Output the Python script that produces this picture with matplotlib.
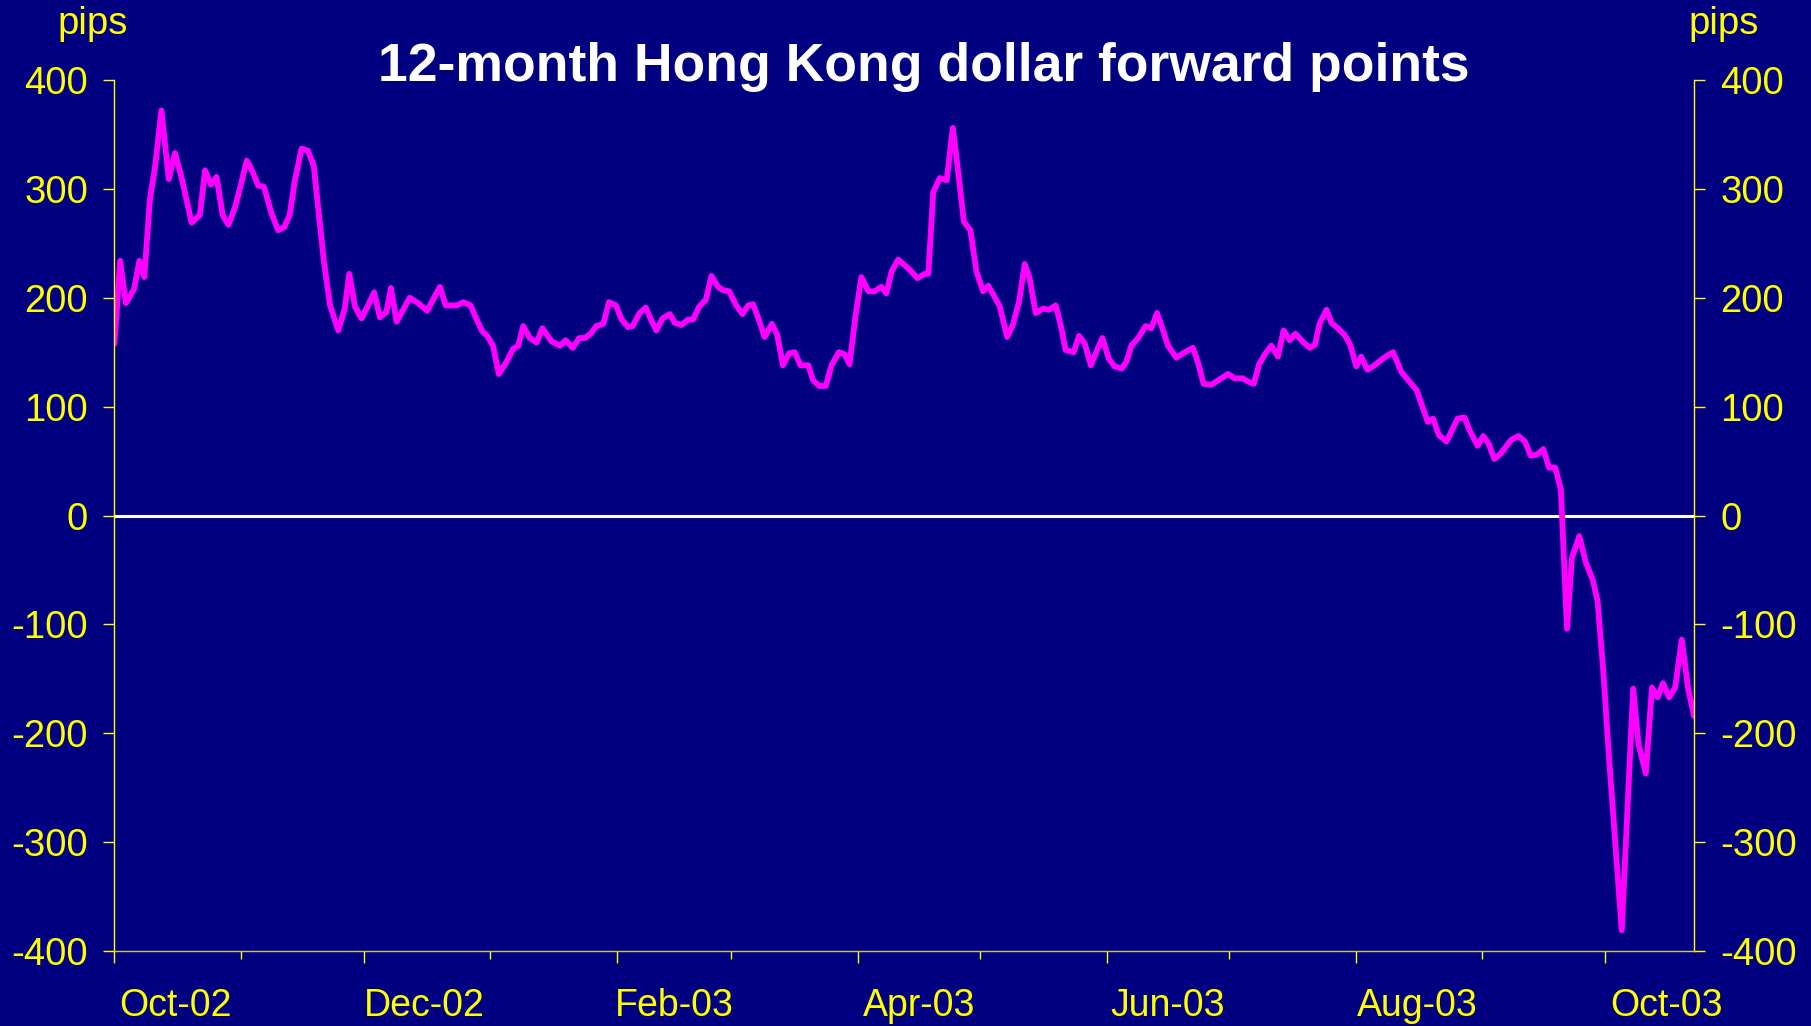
import numpy as np
import pandas as pd
import matplotlib
matplotlib.use("Agg")
import matplotlib.pyplot as plt
import matplotlib.dates as mdates

plt.rcParams["font.family"] = ["Liberation Sans", "DejaVu Sans"]

start_date = "2002-10-01"
end_offset = 386.8

# days since 1 Oct 2002
day_offset = [
    0.0, 1.4, 2.8, 4.8, 6.1, 7.3, 8.7, 9.9, 11.5, 13.3,
    14.8, 16.4, 18.9, 20.9, 22.2, 23.6, 25.0, 26.5, 27.9, 29.5,
    30.7, 32.4, 33.8, 35.2, 36.6, 38.5, 40.1, 41.6, 42.9, 44.2,
    45.8, 47.4, 48.8, 49.9, 51.3, 52.8, 54.8, 56.4, 57.5, 58.9,
    60.5, 62.1, 63.6, 65.0, 66.6, 67.7, 69.1, 70.7, 72.3, 74.4,
    76.6, 78.1, 79.7, 81.1, 83.9, 85.4, 87.2, 88.7, 90.1, 91.3,
    92.7, 94.1, 96.0, 97.6, 98.9, 100.1, 101.7, 103.4, 104.8,
    107.0, 109.1, 110.5, 112.2, 113.8, 115.2, 116.6, 118.0, 119.7, 121.1,
    122.8, 124.2, 125.8, 126.9, 128.6, 130.1, 131.5, 132.7, 134.2, 136.0,
    137.2, 138.8, 140.5, 141.7, 143.2, 144.8, 146.2, 147.8, 149.0, 150.5,
    152.1, 153.8, 155.2, 156.4, 157.8, 159.2, 161.0, 162.3, 163.7, 165.2,
    166.6, 168.0, 169.9, 171.1, 172.6, 174.2, 175.6, 177.4, 178.8, 180.0,
    181.5, 182.9, 184.6, 186.2, 187.8, 189.0, 190.3, 191.9, 193.5, 195.2,
    196.6, 198.5, 199.3, 200.5, 202.1, 203.8, 205.3, 206.6, 208.0, 209.6,
    211.1, 212.7,
    214.0, 215.5, 216.8, 218.6, 220.0, 221.5, 222.9, 224.1, 225.6, 227.4,
    228.8, 230.5, 231.9, 232.9, 234.9, 236.2, 237.6, 239.1, 240.4, 241.9,
    243.5, 244.9, 246.6, 247.8, 249.0, 250.7, 252.5, 253.9, 255.3, 256.6,
    258.0, 260.0, 262.1, 264.1, 265.3, 266.7, 268.6, 270.6, 272.7, 274.3,
    276.3, 277.6, 279.0, 280.3, 281.7, 283.3, 284.9, 286.3, 287.8, 289.2,
    290.9, 292.7, 294.0, 295.1, 296.8, 298.0, 299.6, 301.2, 302.6, 304.1,
    305.3, 306.8, 308.2, 310.6, 311.8, 313.1,
    315.1, 316.9, 318.9, 320.2, 321.6, 322.9, 324.3, 326.2, 328.9, 330.6,
    331.9, 333.8, 335.2, 336.5, 337.9, 339.5, 341.9, 343.8, 345.4, 346.8,
    348.4, 349.9, 351.3, 352.8, 354.2, 355.7, 356.9, 358.7, 360.3, 362.0,
    363.2, 364.6, 366.0, 369.1, 371.9, 373.2, 375.0, 376.5, 377.9, 379.2,
    380.7, 382.2, 383.8, 385.4, 386.8,
]

forward_points = [
    158, 234, 195, 208, 234, 219, 291, 319, 372, 309,
    333, 311, 269, 276, 317, 304, 311, 276, 267, 283,
    300, 326, 316, 303, 302, 277, 262, 265, 276, 308,
    337, 335, 321, 282, 233, 193, 170, 190, 222, 192,
    181, 193, 205, 182, 187, 209, 178, 189, 200, 195,
    188, 199, 210, 193, 193, 196, 193, 180, 169, 165,
    156, 130, 141, 153, 156, 174, 163, 159, 172,
    160, 156, 161, 154, 163, 163, 167, 174, 176, 196,
    193, 180, 173, 174, 186, 191, 179, 170, 181, 185,
    177, 175, 180, 180, 192, 198, 220, 210, 207, 206,
    194, 185, 193, 194, 180, 164, 176, 166, 138, 149,
    150, 138, 138, 124, 119, 119, 138, 150, 148, 139,
    184, 219, 206, 206, 210, 204, 224, 235, 230, 224,
    218, 222, 222, 297, 310, 308, 356, 316, 270, 262,
    224, 206,
    211, 201, 192, 164, 175, 196, 231, 218, 186, 190,
    189, 193, 172, 152, 150, 165, 158, 138, 150, 163,
    144, 137, 135, 141, 156, 163, 174, 172, 186, 172,
    156, 145, 150, 154, 141, 121, 120, 125, 130, 126,
    126, 123, 121, 139, 148, 156, 146, 170, 161, 167,
    160, 154, 157, 176, 189, 177, 172, 166, 157, 137,
    146, 134, 137, 144, 147, 150,
    132, 124, 115, 101, 86, 89, 74, 68, 89, 90,
    78, 64, 73, 66, 52, 57, 69, 73, 68, 55,
    56, 61, 44, 44, 24, -104, -39, -19, -43, -59,
    -79, -144, -223, -381, -159, -210, -237, -158, -167, -154,
    -167, -158, -114, -160, -184,
]

label_dates = ["2002-10-16", "2002-12-16", "2003-02-15", "2003-04-16",
               "2003-06-16", "2003-08-16", "2003-10-16"]
labels = ["Oct-02", "Dec-02", "Feb-03", "Apr-03", "Jun-03", "Aug-03", "Oct-03"]
y_ticks = [-400, -300, -200, -100, 0, 100, 200, 300, 400]

navy = "#000080"
yellow = "#FFFF00"
magenta = "#FF00FF"

t0 = pd.Timestamp(start_date)
dates = t0 + pd.to_timedelta(day_offset, unit="D")

fig = plt.figure(figsize=(18.11, 10.26), dpi=100, facecolor=navy)
ax = fig.add_axes([0.0632, 0.0731, 0.8722, 0.8489], facecolor=navy)

ax.axhline(0, color="white", lw=2.2, zorder=1)
ax.plot(dates, forward_points, color=magenta, lw=4.2,
        solid_joinstyle="round", solid_capstyle="round", zorder=2)

ax.set_xlim(t0, t0 + pd.Timedelta(days=end_offset))
ax.set_ylim(-400, 400)
ax.set_yticks(y_ticks)
ax.set_yticklabels([str(v) for v in y_ticks])

for side in ["left", "right", "bottom", "top"]:
    ax.spines[side].set_color(yellow)
    ax.spines[side].set_linewidth(1.0)
ax.spines["top"].set_visible(False)
ax.spines["bottom"].set_color("#c8c860")

ax.tick_params(axis="y", which="both", direction="out", length=8, width=1,
               color=yellow, labelcolor=yellow, labelsize=27.5, pad=11,
               left=True, right=True, labelleft=True, labelright=True)

# month boundaries: long ticks on labelled months, short ticks in between
ax.xaxis.set_major_locator(mdates.MonthLocator(bymonth=(2, 4, 6, 8, 10, 12)))
ax.xaxis.set_minor_locator(mdates.MonthLocator(bymonth=(1, 3, 5, 7, 9, 11)))
ax.xaxis.set_major_formatter(plt.NullFormatter())
ax.tick_params(axis="x", which="major", direction="out", length=8.5, width=1, color=yellow)
ax.tick_params(axis="x", which="minor", direction="out", length=5.8, width=1, color=yellow)

for d, lab in zip(label_dates, labels):
    ax.annotate(lab, xy=(pd.Timestamp(d), 0), xycoords=("data", "axes fraction"),
                xytext=(0, -39.5), textcoords="offset points",
                ha="center", va="center", color=yellow, fontsize=27)

fig.text(0.510, 0.935, "12-month Hong Kong dollar forward points", color="white",
         fontsize=38.5, fontweight="bold", ha="center", va="center")
fig.text(0.051, 0.977, "pips", color=yellow, fontsize=27.5, ha="center", va="center")
fig.text(0.952, 0.977, "pips", color=yellow, fontsize=27.5, ha="center", va="center")

fig.savefig("out.png", dpi=100, facecolor=navy)
